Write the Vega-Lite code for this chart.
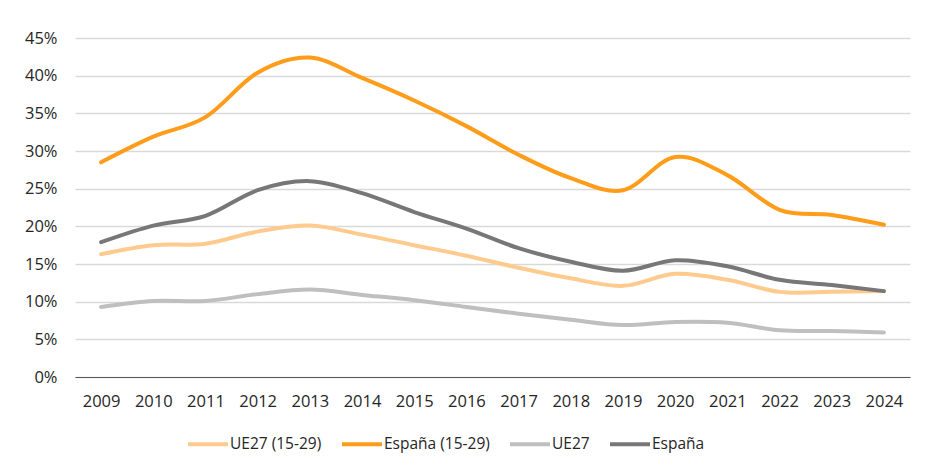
{
  "$schema": "https://vega.github.io/schema/vega-lite/v6.json",
  "width": 835,
  "height": 339,
  "autosize": "none",
  "padding": {"left": 75, "top": 38, "right": 15, "bottom": 98},
  "background": "white",
  "config": {
    "view": {"stroke": null},
    "font": "Open Sans"
  },
  "data": {
    "values": [
      {"year": "2009", "serie": "UE27 (15-29)", "v": 0.163},
      {"year": "2010", "serie": "UE27 (15-29)", "v": 0.175},
      {"year": "2011", "serie": "UE27 (15-29)", "v": 0.177},
      {"year": "2012", "serie": "UE27 (15-29)", "v": 0.193},
      {"year": "2013", "serie": "UE27 (15-29)", "v": 0.201},
      {"year": "2014", "serie": "UE27 (15-29)", "v": 0.189},
      {"year": "2015", "serie": "UE27 (15-29)", "v": 0.175},
      {"year": "2016", "serie": "UE27 (15-29)", "v": 0.161},
      {"year": "2017", "serie": "UE27 (15-29)", "v": 0.145},
      {"year": "2018", "serie": "UE27 (15-29)", "v": 0.131},
      {"year": "2019", "serie": "UE27 (15-29)", "v": 0.121},
      {"year": "2020", "serie": "UE27 (15-29)", "v": 0.137},
      {"year": "2021", "serie": "UE27 (15-29)", "v": 0.129},
      {"year": "2022", "serie": "UE27 (15-29)", "v": 0.113},
      {"year": "2023", "serie": "UE27 (15-29)", "v": 0.113},
      {"year": "2024", "serie": "UE27 (15-29)", "v": 0.114},
      {"year": "2009", "serie": "España (15-29)", "v": 0.285},
      {"year": "2010", "serie": "España (15-29)", "v": 0.319},
      {"year": "2011", "serie": "España (15-29)", "v": 0.345},
      {"year": "2012", "serie": "España (15-29)", "v": 0.404},
      {"year": "2013", "serie": "España (15-29)", "v": 0.424},
      {"year": "2014", "serie": "España (15-29)", "v": 0.397},
      {"year": "2015", "serie": "España (15-29)", "v": 0.367},
      {"year": "2016", "serie": "España (15-29)", "v": 0.333},
      {"year": "2017", "serie": "España (15-29)", "v": 0.295},
      {"year": "2018", "serie": "España (15-29)", "v": 0.264},
      {"year": "2019", "serie": "España (15-29)", "v": 0.248},
      {"year": "2020", "serie": "España (15-29)", "v": 0.292},
      {"year": "2021", "serie": "España (15-29)", "v": 0.268},
      {"year": "2022", "serie": "España (15-29)", "v": 0.222},
      {"year": "2023", "serie": "España (15-29)", "v": 0.215},
      {"year": "2024", "serie": "España (15-29)", "v": 0.202},
      {"year": "2009", "serie": "UE27", "v": 0.093},
      {"year": "2010", "serie": "UE27", "v": 0.101},
      {"year": "2011", "serie": "UE27", "v": 0.101},
      {"year": "2012", "serie": "UE27", "v": 0.110},
      {"year": "2013", "serie": "UE27", "v": 0.116},
      {"year": "2014", "serie": "UE27", "v": 0.109},
      {"year": "2015", "serie": "UE27", "v": 0.102},
      {"year": "2016", "serie": "UE27", "v": 0.093},
      {"year": "2017", "serie": "UE27", "v": 0.084},
      {"year": "2018", "serie": "UE27", "v": 0.076},
      {"year": "2019", "serie": "UE27", "v": 0.069},
      {"year": "2020", "serie": "UE27", "v": 0.073},
      {"year": "2021", "serie": "UE27", "v": 0.072},
      {"year": "2022", "serie": "UE27", "v": 0.062},
      {"year": "2023", "serie": "UE27", "v": 0.061},
      {"year": "2024", "serie": "UE27", "v": 0.059},
      {"year": "2009", "serie": "España", "v": 0.179},
      {"year": "2010", "serie": "España", "v": 0.201},
      {"year": "2011", "serie": "España", "v": 0.214},
      {"year": "2012", "serie": "España", "v": 0.248},
      {"year": "2013", "serie": "España", "v": 0.260},
      {"year": "2014", "serie": "España", "v": 0.244},
      {"year": "2015", "serie": "España", "v": 0.219},
      {"year": "2016", "serie": "España", "v": 0.197},
      {"year": "2017", "serie": "España", "v": 0.171},
      {"year": "2018", "serie": "España", "v": 0.153},
      {"year": "2019", "serie": "España", "v": 0.141},
      {"year": "2020", "serie": "España", "v": 0.155},
      {"year": "2021", "serie": "España", "v": 0.147},
      {"year": "2022", "serie": "España", "v": 0.129},
      {"year": "2023", "serie": "España", "v": 0.122},
      {"year": "2024", "serie": "España", "v": 0.114}
    ]
  },
  "mark": {"type": "line", "interpolate": "cardinal", "strokeWidth": 4, "strokeCap": "round", "strokeJoin": "round"},
  "encoding": {
    "x": {
      "field": "year", "type": "ordinal",
      "scale": {"type": "point", "padding": 0.5},
      "axis": {
        "title": null, "labelAngle": 0, "labelFontSize": 16.5, "labelColor": "#262626",
        "labelPadding": 16, "ticks": false, "domain": true, "domainColor": "#595959", "domainWidth": 1,
        "grid": false
      }
    },
    "y": {
      "field": "v", "type": "quantitative",
      "scale": {"domain": [0, 0.45], "nice": false},
      "axis": {
        "title": null, "format": ".0%", "values": [0, 0.05, 0.1, 0.15, 0.2, 0.25, 0.3, 0.35, 0.4, 0.45],
        "labelFontSize": 16.5, "labelColor": "#262626", "labelPadding": 18,
        "ticks": false, "domain": false,
        "grid": true, "gridColor": "#D9D9D9", "gridWidth": 1.5
      }
    },
    "color": {
      "field": "serie", "type": "nominal",
      "scale": {
        "domain": ["UE27 (15-29)", "España (15-29)", "UE27", "España"],
        "range": ["#FFCA8E", "#FF9C1A", "#BFBFBF", "#777777"]
      },
      "legend": {
        "title": null, "orient": "none", "direction": "horizontal",
        "legendX": 111, "legendY": 384,
        "symbolType": "stroke", "symbolSize": 1600, "symbolStrokeWidth": 4,
        "labelFontSize": 15.5, "labelColor": "#262626", "labelOffset": 0,
        "columnPadding": 12
      }
    },
    "order": {"field": "year"}
  }
}
